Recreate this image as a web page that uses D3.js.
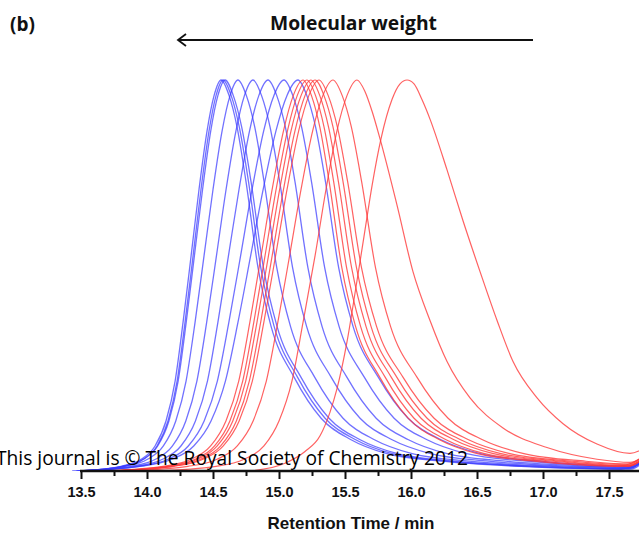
<!DOCTYPE html>
<html><head><meta charset="utf-8">
<script src="https://cdn.jsdelivr.net/npm/d3@7"></script>
<style>html,body{margin:0;padding:0;background:#fff;}svg{display:block;}</style>
</head><body>
<svg id="chart" width="639" height="533"></svg>
<script>
// Tick values (minutes)
const majorTicks = [13.5, 14.0, 14.5, 15.0, 15.5, 16.0, 16.5, 17.0, 17.5];
const minorTicks = [13.75, 14.25, 14.75, 15.25, 15.75, 16.25, 16.75, 17.25, 17.75];

// Blue traces: [retention time (min), normalized signal]
const blue1 = [[13.478,0],[13.803,0.012],[13.955,0.03],[14.061,0.064],[14.144,0.128],[14.213,0.23],[14.273,0.38],[14.334,0.55],[14.394,0.72],[14.455,0.87],[14.508,0.96],[14.561,1],[14.622,0.96],[14.682,0.88],[14.750,0.74],[14.841,0.52],[14.940,0.37],[15.114,0.24],[15.319,0.135],[15.546,0.08],[15.811,0.045],[16.228,0.025],[16.834,0.012],[17.591,0.005],[17.8,0.04]];
const blue2 = [[13.493,0],[13.818,0.012],[13.970,0.03],[14.076,0.064],[14.159,0.128],[14.228,0.23],[14.288,0.38],[14.349,0.55],[14.409,0.72],[14.470,0.87],[14.523,0.96],[14.576,1],[14.638,0.96],[14.699,0.88],[14.769,0.74],[14.862,0.52],[14.963,0.37],[15.140,0.24],[15.349,0.135],[15.581,0.08],[15.851,0.045],[16.276,0.025],[16.894,0.012],[17.667,0.005],[17.8,0.04]];
const blue3 = [[13.486,0],[13.818,0.012],[13.973,0.03],[14.081,0.064],[14.166,0.128],[14.236,0.23],[14.297,0.38],[14.359,0.55],[14.421,0.72],[14.483,0.87],[14.537,0.96],[14.591,1],[14.654,0.96],[14.717,0.88],[14.788,0.74],[14.882,0.52],[14.985,0.37],[15.166,0.24],[15.379,0.135],[15.615,0.08],[15.891,0.045],[16.325,0.025],[16.955,0.012],[17.65,0.006],[17.8,0.04]];
const blue4 = [[13.465,0],[13.832,0.012],[14.004,0.03],[14.124,0.064],[14.218,0.128],[14.296,0.23],[14.364,0.38],[14.432,0.55],[14.500,0.72],[14.569,0.87],[14.629,0.96],[14.689,1],[14.753,0.96],[14.816,0.88],[14.887,0.74],[14.983,0.52],[15.087,0.37],[15.270,0.24],[15.485,0.135],[15.723,0.08],[16.002,0.045],[16.439,0.025],[17.076,0.012],[17.65,0.007],[17.8,0.04]];
const blue5 = [[13.482,0],[13.878,0.012],[14.064,0.03],[14.193,0.064],[14.294,0.128],[14.378,0.23],[14.452,0.38],[14.526,0.55],[14.599,0.72],[14.674,0.87],[14.738,0.96],[14.803,1],[14.868,0.96],[14.932,0.88],[15.005,0.74],[15.103,0.52],[15.209,0.37],[15.395,0.24],[15.614,0.135],[15.857,0.08],[16.141,0.045],[16.587,0.025],[17.235,0.012],[17.65,0.008],[17.8,0.04]];
const blue6 = [[13.487,0],[13.916,0.012],[14.117,0.03],[14.257,0.064],[14.367,0.128],[14.458,0.23],[14.537,0.38],[14.617,0.55],[14.697,0.72],[14.777,0.87],[14.847,0.96],[14.917,1],[14.983,0.96],[15.048,0.88],[15.121,0.74],[15.219,0.52],[15.326,0.37],[15.514,0.24],[15.736,0.135],[15.981,0.08],[16.267,0.045],[16.717,0.025],[17.372,0.012],[17.65,0.009],[17.8,0.04]];
const blue7 = [[13.468,0],[13.939,0.012],[14.159,0.03],[14.313,0.064],[14.433,0.128],[14.533,0.23],[14.620,0.38],[14.709,0.55],[14.796,0.72],[14.884,0.87],[14.961,0.96],[15.038,1],[15.105,0.96],[15.171,0.88],[15.246,0.74],[15.346,0.52],[15.455,0.37],[15.646,0.24],[15.872,0.135],[16.122,0.08],[16.413,0.045],[16.872,0.025],[17.538,0.012],[17.65,0.011],[17.8,0.04]];
const blue8 = [[13.433,0],[13.946,0.012],[14.187,0.03],[14.354,0.064],[14.485,0.128],[14.594,0.23],[14.689,0.38],[14.785,0.55],[14.880,0.72],[14.977,0.87],[15.060,0.96],[15.144,1],[15.211,0.96],[15.277,0.88],[15.352,0.74],[15.452,0.52],[15.561,0.37],[15.752,0.24],[15.978,0.135],[16.228,0.08],[16.519,0.045],[16.978,0.025],[17.644,0.012],[17.8,0.04]];

// Red traces
const red1 = [[13.666,0],[14.121,0.012],[14.334,0.03],[14.482,0.064],[14.598,0.128],[14.695,0.23],[14.779,0.38],[14.864,0.55],[14.948,0.72],[15.034,0.87],[15.108,0.96],[15.182,1],[15.246,0.96],[15.309,0.88],[15.380,0.74],[15.476,0.52],[15.580,0.37],[15.763,0.24],[15.978,0.135],[16.216,0.08],[16.495,0.045],[16.932,0.025],[17.569,0.012],[17.8,0.045]];
const red2 = [[13.696,0],[14.151,0.012],[14.364,0.03],[14.512,0.064],[14.628,0.128],[14.725,0.23],[14.809,0.38],[14.894,0.55],[14.978,0.72],[15.064,0.87],[15.138,0.96],[15.212,1],[15.277,0.96],[15.341,0.88],[15.414,0.74],[15.512,0.52],[15.618,0.37],[15.804,0.24],[16.023,0.135],[16.266,0.08],[16.550,0.045],[16.996,0.025],[17.644,0.012],[17.8,0.045]];
const red3 = [[13.704,0],[14.166,0.012],[14.381,0.03],[14.532,0.064],[14.650,0.128],[14.748,0.23],[14.833,0.38],[14.920,0.55],[15.005,0.72],[15.091,0.87],[15.167,0.96],[15.242,1],[15.309,0.96],[15.375,0.88],[15.450,0.74],[15.550,0.52],[15.659,0.37],[15.850,0.24],[16.076,0.135],[16.326,0.08],[16.617,0.045],[17.076,0.025],[17.65,0.013],[17.8,0.045]];
const red4 = [[13.724,0],[14.189,0.012],[14.406,0.03],[14.558,0.064],[14.677,0.128],[14.775,0.23],[14.861,0.38],[14.948,0.55],[15.034,0.72],[15.121,0.87],[15.197,0.96],[15.273,1],[15.341,0.96],[15.409,0.88],[15.485,0.74],[15.587,0.52],[15.697,0.37],[15.892,0.24],[16.122,0.135],[16.376,0.08],[16.673,0.045],[17.140,0.025],[17.65,0.014],[17.8,0.045]];
const red5 = [[13.733,0],[14.204,0.012],[14.424,0.03],[14.578,0.064],[14.698,0.128],[14.798,0.23],[14.885,0.38],[14.974,0.55],[15.061,0.72],[15.149,0.87],[15.226,0.96],[15.303,1],[15.373,0.96],[15.442,0.88],[15.520,0.74],[15.625,0.52],[15.739,0.37],[15.939,0.24],[16.175,0.135],[16.436,0.08],[16.741,0.045],[17.220,0.025],[17.65,0.016],[17.8,0.045]];
const red6 = [[13.839,0],[14.310,0.012],[14.530,0.03],[14.684,0.064],[14.804,0.128],[14.904,0.23],[14.991,0.38],[15.080,0.55],[15.167,0.72],[15.255,0.87],[15.332,0.96],[15.409,1],[15.479,0.96],[15.548,0.88],[15.626,0.74],[15.731,0.52],[15.845,0.37],[16.045,0.24],[16.281,0.135],[16.542,0.08],[16.847,0.045],[17.326,0.025],[17.65,0.018],[17.8,0.05]];
const red7 = [[14.061,0],[14.523,0.012],[14.735,0.03],[14.886,0.064],[15.000,0.128],[15.098,0.23],[15.182,0.38],[15.273,0.55],[15.356,0.72],[15.439,0.87],[15.515,0.96],[15.591,1],[15.652,0.97],[15.705,0.92],[15.765,0.85],[15.894,0.68],[16.015,0.51],[16.144,0.385],[16.273,0.28],[16.447,0.187],[16.697,0.11],[17.030,0.06],[17.409,0.03],[17.659,0.022],[17.8,0.05]];
const red8 = [[14.780,0],[15.045,0.02],[15.197,0.05],[15.311,0.09],[15.386,0.15],[15.439,0.21],[15.515,0.33],[15.583,0.47],[15.644,0.6],[15.705,0.73],[15.773,0.85],[15.856,0.95],[15.917,0.99],[15.970,1],[16.023,0.99],[16.083,0.95],[16.144,0.9],[16.273,0.77],[16.394,0.64],[16.523,0.51],[16.652,0.385],[16.773,0.28],[16.955,0.187],[17.152,0.121],[17.409,0.069],[17.659,0.045],[17.8,0.065]];

const blueSeries = [blue1, blue2, blue3, blue4, blue5, blue6, blue7, blue8];
const redSeries = [red1, red2, red3, red4, red5, red6, red7, red8];

const svg = d3.select("#chart");
svg.append("rect").attr("width", 639).attr("height", 533).attr("fill", "#fff");

const x = d3.scaleLinear().domain([13.5, 17.5]).range([81, 609]);
const y = d3.scaleLinear().domain([0, 1]).range([471, 80]);
const axisY = 471;

svg.append("defs").append("clipPath").attr("id", "plotclip")
  .append("rect").attr("x", 0).attr("y", 0).attr("width", 639).attr("height", axisY);

const line = d3.line().x(d => x(d[0])).y(d => y(d[1])).curve(d3.curveMonotoneX);

const plot = svg.append("g").attr("clip-path", "url(#plotclip)");
plot.selectAll(".blue").data(blueSeries).join("path")
  .attr("class", "blue").attr("d", line)
  .attr("fill", "none").attr("stroke", "#3a3aff").attr("stroke-opacity", 0.72).attr("stroke-width", 1.3);
plot.selectAll(".red").data(redSeries).join("path")
  .attr("class", "red").attr("d", line)
  .attr("fill", "none").attr("stroke", "#ff3a3a").attr("stroke-opacity", 0.8).attr("stroke-width", 1.2);

// Watermark text
svg.append("text")
  .attr("x", -4).attr("y", 465)
  .attr("font-family", "Open Sans, Noto Sans, sans-serif").attr("font-size", 20)
  .attr("textLength", 472).attr("lengthAdjust", "spacingAndGlyphs")
  .attr("fill", "#000")
  .text("This journal is © The Royal Society of Chemistry 2012");

// Axis
const axisG = svg.append("g").attr("transform", `translate(0,${axisY})`);
axisG.call(d3.axisBottom(x).tickValues(minorTicks).tickSize(5).tickFormat(""))
  .call(g => g.select(".domain").remove());
const majorG = svg.append("g").attr("transform", `translate(0,${axisY})`);
majorG.call(d3.axisBottom(x).tickValues(majorTicks).tickSize(8).tickFormat(d3.format(".1f")))
  .call(g => g.select(".domain").remove());
svg.selectAll(".tick line").attr("stroke", "#111").attr("stroke-width", 2);
majorG.selectAll("text")
  .attr("y", 26).attr("dy", null)
  .attr("font-family", "Liberation Sans, Arial, sans-serif")
  .attr("font-weight", "bold").attr("font-size", 14.5).attr("fill", "#111");
svg.append("line")
  .attr("x1", x(13.5) - 1).attr("x2", 639).attr("y1", axisY).attr("y2", axisY)
  .attr("stroke", "#111").attr("stroke-width", 2.5);

// Axis title
svg.append("text")
  .attr("x", 351).attr("y", 529).attr("text-anchor", "middle")
  .attr("font-family", "Liberation Sans, Arial, sans-serif")
  .attr("font-weight", "bold").attr("font-size", 17).attr("fill", "#111")
  .text("Retention Time / min");

// Panel label
svg.append("text")
  .attr("x", 10).attr("y", 31)
  .attr("font-family", "Open Sans, Noto Sans, sans-serif")
  .attr("font-weight", "bold").attr("font-size", 19).attr("fill", "#111")
  .text("(b)");

// Molecular weight label + arrow
svg.append("text")
  .attr("x", 270).attr("y", 30)
  .attr("font-family", "Open Sans, Noto Sans, sans-serif")
  .attr("font-weight", "bold").attr("font-size", 20).attr("fill", "#111")
  .attr("textLength", 167).attr("lengthAdjust", "spacingAndGlyphs")
  .text("Molecular weight");
svg.append("line")
  .attr("x1", 533).attr("x2", 178).attr("y1", 40).attr("y2", 40)
  .attr("stroke", "#111").attr("stroke-width", 1.8);
svg.append("path")
  .attr("d", "M186,34 L178,40 L186,46")
  .attr("fill", "none").attr("stroke", "#111").attr("stroke-width", 1.8);
</script>
</body></html>
